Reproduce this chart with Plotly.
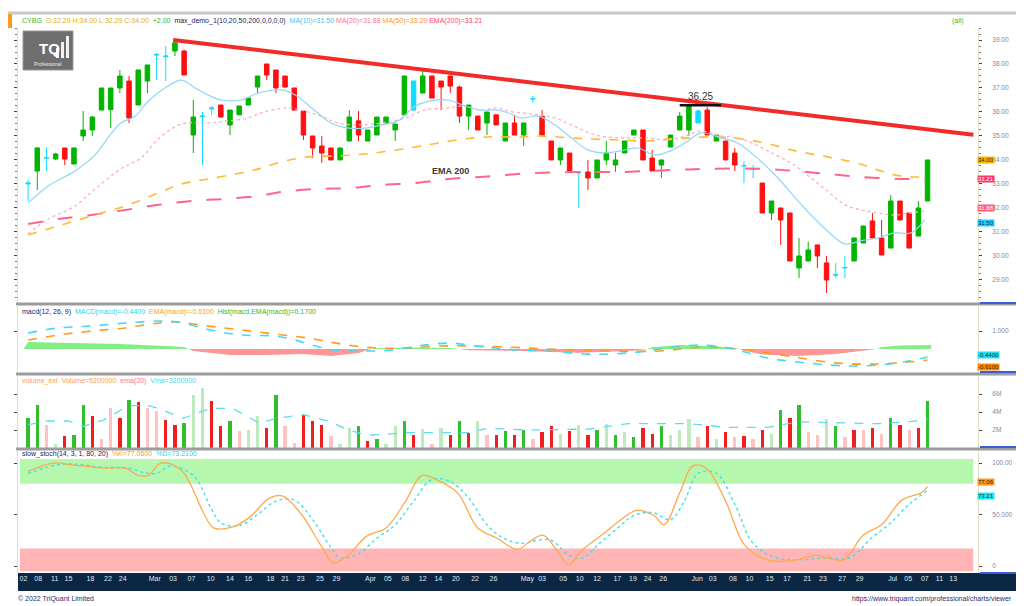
import plotly.graph_objects as go
from plotly.subplots import make_subplots

W, H = 1024, 606

# ---- price candles (index = trading day) ----
cndl_open = [33.00, 33.54, 34.08, 34.04, 34.50, 33.83, 35.00, 35.25, 36.08, 36.10,
             37.00, 37.29, 36.29, 37.29, 38.37, 38.30, 38.54, 38.54, 35.04, 35.80,
             36.13, 36.29, 35.46, 35.88, 36.29, 37.04, 38.00, 37.75, 37.50, 37.00,
             36.04, 35.00, 34.58, 34.50, 34.00, 34.79, 35.63, 34.79, 35.04, 35.54,
             35.25, 35.88, 36.08, 36.79, 37.50, 37.29, 37.50, 37.04, 35.83, 35.83,
             35.54, 35.88, 34.79, 35.54, 35.04, 36.54, 35.83, 34.79, 34.00, 34.29,
             33.46, 33.50, 33.25, 34.00, 33.79, 34.29, 35.04, 35.25, 34.08, 33.79,
             34.54, 35.25, 35.25, 35.54, 36.08, 34.79, 34.79, 34.29, 33.75, 33.60,
             33.04, 31.79, 32.00, 31.79, 29.50, 29.79, 30.46, 29.71, 29.20, 29.50,
             29.79, 30.54, 31.46, 30.75, 30.33, 32.29, 31.79, 30.83, 32.29]
cndl_high = [33.17, 34.54, 34.54, 34.30, 34.50, 34.50, 36.04, 35.83, 37.00, 37.00,
             37.75, 37.50, 37.75, 37.96, 38.46, 38.75, 39.00, 38.60, 36.50, 36.00,
             36.25, 36.30, 36.08, 36.25, 36.60, 37.50, 38.00, 37.75, 37.50, 37.00,
             36.04, 35.00, 35.00, 34.50, 34.50, 36.08, 36.04, 35.25, 35.79, 35.79,
             35.50, 37.50, 37.30, 37.71, 37.50, 37.29, 37.50, 37.10, 36.29, 35.83,
             36.00, 35.90, 35.54, 35.88, 35.54, 36.67, 36.08, 34.79, 34.50, 34.29,
             33.50, 34.00, 34.00, 34.79, 34.30, 34.79, 35.25, 35.25, 34.42, 34.00,
             35.04, 36.00, 36.33, 36.10, 36.20, 35.04, 34.79, 34.50, 33.96, 33.79,
             33.04, 32.29, 32.00, 31.79, 30.75, 30.60, 30.46, 30.00, 29.71, 30.00,
             30.75, 31.25, 31.79, 31.50, 32.54, 32.29, 31.79, 32.29, 34.00]
cndl_low = [32.29, 32.75, 33.54, 34.00, 33.79, 33.83, 34.79, 35.00, 36.08, 35.33,
            36.79, 35.54, 36.29, 36.79, 37.33, 37.29, 38.33, 37.54, 34.29, 33.79,
            35.88, 35.79, 35.04, 35.88, 36.29, 36.79, 37.33, 36.79, 37.00, 36.08,
            34.83, 34.08, 33.88, 34.00, 34.00, 34.79, 34.79, 34.79, 35.04, 35.54,
            34.79, 35.88, 36.08, 36.79, 36.58, 36.08, 36.79, 35.54, 35.25, 35.25,
            35.04, 35.46, 34.79, 35.04, 34.58, 36.38, 35.04, 34.00, 33.79, 33.54,
            32.00, 32.75, 33.25, 33.79, 33.50, 34.29, 35.04, 34.00, 33.54, 33.25,
            34.54, 35.25, 35.00, 35.54, 35.04, 34.79, 34.00, 33.54, 33.04, 33.25,
            31.79, 31.50, 30.46, 29.79, 29.08, 29.79, 29.50, 28.46, 29.08, 29.08,
            29.79, 30.54, 30.75, 30.04, 30.33, 31.50, 30.33, 30.83, 32.29]
cndl_close = [33.04, 34.50, 34.10, 34.25, 34.04, 34.50, 35.25, 35.79, 37.00, 37.00,
              37.50, 35.75, 37.75, 37.96, 38.40, 38.33, 38.88, 37.54, 35.79, 35.83,
              36.17, 35.79, 36.08, 36.25, 36.58, 37.50, 37.54, 37.00, 37.04, 36.08,
              35.04, 34.50, 34.29, 34.00, 34.50, 35.79, 35.04, 35.25, 35.79, 35.79,
              35.50, 37.50, 37.29, 37.50, 36.58, 37.04, 37.08, 35.83, 36.29, 35.25,
              36.00, 35.46, 35.54, 35.04, 35.54, 36.56, 35.04, 34.00, 34.50, 33.54,
              33.48, 33.25, 34.00, 34.29, 34.00, 34.79, 35.25, 34.00, 33.54, 34.00,
              35.04, 35.83, 36.29, 36.04, 35.04, 35.04, 34.00, 33.79, 33.77, 33.62,
              31.79, 32.29, 31.50, 29.79, 30.00, 30.25, 30.00, 29.00, 29.22, 29.52,
              30.75, 31.25, 30.75, 30.04, 32.29, 31.50, 30.33, 32.00, 34.00]
# g = green, r = red, c = cyan (doji / inside)
cndl_kind = list("cgcgrggggg" "grggccgrgc" "crggggrrrr" "rrrrggrggg" "ggcgrrrrgr"
                 "grgrgcrrgr" "crgggggrrg" "gggcrgrrcc" "rgrrggrrcc" "ggrrgrrgg")

# moving averages (sparse readings: index, price)
ma10_idx = [0, 2.2, 5.1, 7.3, 8.7, 10.1, 11.7, 13.1, 14.9, 16.7, 18.2, 19.6, 21, 23.2, 25.1,
            27.6, 29.1, 31.3, 33, 34.9, 36.7, 38.5, 40.3, 42.2, 43.9, 45.8, 47.6, 49.3, 51.2,
            52.3, 53.7, 55.6, 57.4, 59.2, 61, 62.9, 64.6, 66.4, 68.3, 70, 71.9, 73.3, 75.5,
            77.3, 79.8, 81.7, 83.6, 85.3, 87.1, 89, 90.7, 92.6, 94.4, 96.2, 97.7]
ma10_val = [32.21, 32.92, 33.54, 34.21, 34.92, 35.54, 35.83, 36.46, 37.0, 37.33, 37.0, 36.71,
            36.5, 36.5, 36.79, 36.92, 36.71, 36.04, 35.54, 35.33, 35.33, 35.46, 35.63, 36.25,
            36.46, 36.5, 36.25, 36.08, 36.08, 35.96, 35.75, 35.83, 35.46, 34.92, 34.42, 34.29,
            34.38, 34.5, 34.21, 34.38, 34.79, 35.13, 34.92, 34.71, 33.96, 33.25, 32.42, 31.71,
            31.04, 30.5, 30.63, 30.75, 30.96, 30.96, 31.5]
ma20_idx = [0, 2.2, 5.1, 7.3, 10.1, 12.3, 14.2, 16.7, 19.6, 21.8, 24, 25.1, 26.1, 28.3, 29.7,
            31.9, 33.8, 36, 38.5, 41.1, 43.2, 45.8, 47.6, 49.3, 51.2, 52.3, 55.6, 57.4, 59.2,
            61.8, 64.6, 67.5, 69.7, 71.9, 73.3, 75.5, 77.3, 78.4, 80.6, 83.6, 85.3, 87.1, 89,
            90.7, 92.6, 94.4, 96.2, 97.8]
ma20_val = [30.92, 31.54, 32.08, 32.79, 33.63, 34.08, 34.88, 35.5, 35.54, 35.63, 35.75, 35.92,
            36.04, 36.17, 36.08, 35.83, 35.54, 35.46, 35.54, 35.75, 36.08, 36.17, 36.25, 36.08,
            36.17, 36.04, 35.88, 35.75, 35.46, 35.04, 34.92, 34.92, 34.83, 35.04, 35.21, 35.0,
            34.92, 34.79, 34.38, 33.75, 33.25, 32.71, 32.13, 31.92, 31.79, 31.71, 31.79, 31.88]
ma50_idx = [0, 3.3, 6.9, 10.6, 14.2, 16.7, 19.6, 23.2, 25.1, 27.6, 30.5, 33.8, 36.7, 39.5,
            42.2, 44.7, 47.6, 50.1, 53.7, 55.6, 59.2, 61, 64.6, 67.5, 70, 71.9, 75.5, 79.8,
            83.6, 87.1, 90.7, 92.6, 95.1, 97.8]
ma50_val = [30.88, 31.25, 31.67, 32.08, 32.63, 33.0, 33.21, 33.46, 33.63, 33.92, 34.13, 34.17,
            34.25, 34.38, 34.54, 34.71, 34.88, 34.96, 34.96, 35.0, 34.92, 34.88, 34.83, 34.79,
            34.88, 34.92, 34.96, 34.75, 34.38, 34.13, 33.83, 33.58, 33.33, 33.29]
ema200_idx = [0, 3.3, 6.9, 10.6, 14.2, 17.8, 21.5, 25.1, 27.6, 31.3, 34.9, 38.5, 42.2, 45.8,
              49.3, 55.2, 61, 64.6, 70, 74.1, 79.8, 83.6, 87.1, 90.7, 95.1, 97.8]
ema200_val = [31.33, 31.54, 31.71, 31.92, 32.13, 32.29, 32.38, 32.5, 32.67, 32.79, 32.83, 32.96,
              33.04, 33.21, 33.29, 33.46, 33.5, 33.5, 33.58, 33.63, 33.63, 33.54, 33.42, 33.29,
              33.21, 33.21]

trend_idx = [15.8, 103.0]
trend_px = [39.0, 35.05]
peak_idx = [71.0, 75.5]
peak_px = [36.28, 36.28]
peak_label = "36.25"
ema_label_idx, ema_label_px = 46.0, 33.55

# ---- MACD ----
macd_idx = [0, 3.3, 6.9, 10.6, 14.2, 16.3, 18.2, 20.4, 23.2, 26.9, 29.1, 31.3, 33.4, 35.9,
            39.5, 43.2, 46.1, 48.7, 50.9, 53.4, 56.6, 61, 65.4, 69.7, 73, 76.3, 80.6, 85,
            89.3, 92.6, 95.9, 98]
macd_val = [0.89, 1.17, 1.28, 1.44, 1.56, 1.5, 1.28, 1.0, 0.78, 0.72, 0.5, 0.17, -0.06, -0.11,
            -0.06, 0.22, 0.33, 0.17, 0.06, -0.06, -0.11, -0.28, -0.22, 0.06, 0.22, 0.06, -0.5,
            -0.78, -0.94, -0.89, -0.67, -0.44]
sig_idx = [0, 3.3, 6.9, 10.6, 13.4, 16, 19.6, 23.2, 26.9, 30.5, 34.1, 37.8, 41.4, 45, 48.7,
           52.3, 56.6, 63.2, 68.6, 74.1, 78.4, 82.8, 88.2, 92.6, 95.9, 98]
sig_val = [0.5, 0.78, 1.0, 1.17, 1.39, 1.5, 1.28, 1.06, 0.83, 0.61, 0.28, 0.06, 0.06, 0.17, 0.17,
           0.11, 0.0, -0.11, -0.11, 0.11, -0.06, -0.39, -0.78, -0.83, -0.72, -0.61]
hist_up_idx = [-0.5, 0, 5, 10, 15, 17, 17.5, None, 37.5, 38, 42, 46, 47, None,
               67.5, 68, 71, 75, 77, 77.5, None, 92.5, 93, 95, 98, 98.4]
hist_up_val = [0, 0.39, 0.33, 0.28, 0.17, 0.11, 0, None, 0, 0.05, 0.08, 0.06, 0, None,
               0, 0.1, 0.22, 0.15, 0.05, 0, None, 0, 0.12, 0.2, 0.22, 0.22]
hist_dn_idx = [17.5, 18, 20, 22, 26, 30, 33, 36, 37, 37.5, None, 47, 48, 54, 60, 66, 67.5, None,
               77.5, 78, 80, 84, 88, 91, 92.5]
hist_dn_val = [0, -0.11, -0.22, -0.33, -0.33, -0.28, -0.39, -0.22, -0.05, 0, None, 0, -0.06,
               -0.11, -0.2, -0.1, 0, None, 0, -0.1, -0.3, -0.39, -0.28, -0.1, 0]

# ---- volume (millions) ----
vol_val = [3.3, 4.8, 2.6, 0.5, 1.3, 1.4, 4.8, 3.6, 1.0, 4.4,
           3.3, 5.3, 5.1, 4.4, 4.1, 3.1, 2.6, 2.8, 5.9, 6.7,
           5.2, 2.4, 3.0, 1.9, 2.0, 3.6, 2.2, 5.9, 2.4, 0.6,
           3.7, 3.0, 2.6, 1.3, 0.5, 2.2, 2.4, 0.8, 1.0, 0.5,
           2.4, 3.0, 1.4, 2.1, 0.5, 2.2, 1.4, 3.0, 1.7, 3.0,
           1.4, 1.4, 1.9, 1.4, 2.0, 1.0, 1.8, 2.4, 1.6, 1.9,
           2.6, 1.5, 2.0, 2.7, 1.5, 1.8, 1.2, 2.2, 1.6, 2.5,
           1.4, 2.0, 3.2, 1.2, 2.4, 1.0, 1.8, 1.2, 1.3, 1.0,
           2.0, 1.6, 4.2, 3.3, 4.8, 1.8, 1.4, 3.2, 2.4, 1.2,
           2.0, 2.0, 2.2, 1.6, 3.3, 2.6, 2.0, 2.2, 5.2]
vol_kind = ["g", "g", "lp", "lg", "r", "g", "g", "r", "lp", "lp",
            "r", "g", "r", "lp", "lp", "r", "r", "g", "lg", "lg",
            "r", "r", "g", "lp", "lg", "lg", "r", "g", "lp", "lp",
            "r", "r", "r", "lp", "lg", "lg", "g", "r", "g", "lg",
            "lg", "g", "r", "lg", "lp", "lg", "r", "g", "r", "lg",
            "lp", "r", "g", "r", "g", "lp", "r", "r", "lg", "r",
            "lg", "r", "g", "lg", "g", "lg", "g", "r", "r", "g",
            "lg", "lg", "lg", "lp", "r", "lg", "r", "lp", "r", "lp",
            "r", "lg", "g", "r", "g", "lp", "lp", "lg", "g", "lp",
            "r", "lp", "r", "lp", "g", "r", "lp", "r", "g"]
vma_idx = [0, 2.2, 4.4, 6, 8.2, 10.9, 13.1, 14.2, 16.9, 19.9, 22.3, 25.1, 27.2, 30, 32.7,
           34.9, 37, 41.4, 47.9, 50.1, 54.5, 61, 65.4, 71.9, 76.3, 80.6, 83.9, 88.2, 92.6,
           95.9, 98]
vma_val = [2.6, 3.0, 3.0, 2.4, 3.1, 4.7, 4.7, 4.4, 3.3, 4.4, 4.4, 2.8, 3.3, 3.7, 3.0, 2.0, 1.4,
           1.7, 1.7, 2.2, 2.0, 2.1, 2.7, 2.7, 2.3, 2.3, 2.9, 2.8, 2.7, 2.9, 3.2]

# ---- slow stochastic ----
stk_idx = [0, 2.8, 4.9, 8.5, 10.6, 12, 13.1, 14.5, 16.7, 19.2, 20.2, 22.3, 24.1, 26.3, 27.7,
           29.8, 31.9, 33.3, 34.8, 36.9, 39, 41.2, 42.9, 44.7, 46.8, 49, 51.1, 53.3, 54.7,
           56.1, 57.8, 58.9, 60.3, 62.5, 64.6, 66.3, 68.2, 69.3, 71, 72.4, 73.9, 76, 78.1,
           80.6, 83.1, 85.9, 88.8, 91, 93, 95.2, 97.3, 98]
stk_val = [92, 100, 98, 95, 95, 88, 88, 100, 93, 50, 37, 38, 47, 66, 68, 50, 20, 3, 10, 29,
           37, 64, 88, 83, 71, 37, 27, 16, 24, 30, 13, 1, 15, 30, 45, 54, 49, 40, 71, 97, 95,
           63, 20, 6, 5, 10, 6, 30, 40, 64, 71, 77.06]
std_idx = [0, 3, 5, 8, 11, 12.5, 14, 15.5, 18, 20, 21, 23, 25, 27, 29, 31, 33, 34, 36, 38,
           40, 42, 44, 46, 48, 50, 52, 54, 55.5, 57, 59, 60.5, 62, 64, 66, 68, 70, 71.5, 73,
           75, 77, 79, 81.5, 84, 87, 89.5, 92, 94, 96, 98]
std_val = [90, 98, 99, 96, 95, 91, 90, 97, 88, 55, 42, 39, 50, 63, 64, 45, 18, 8, 12, 27, 40,
           63, 84, 82, 66, 40, 26, 22, 25, 25, 10, 8, 20, 35, 49, 52, 45, 63, 90, 90, 60, 22,
           8, 6, 8, 8, 28, 42, 60, 73.21]

tick_idx = [-0.5, 1.1, 2.9, 4.4, 6.8, 8.7, 10.3, 13.8, 15.8, 17.8, 19.9, 22.0, 24.0, 26.4,
            28.0, 29.7, 31.8, 33.6, 37.3, 39.2, 41.1, 43.0, 44.7, 46.6, 48.7, 50.7, 54.4,
            56.0, 58.3, 60.1, 62.0, 64.2, 65.9, 67.5, 69.2, 72.9, 74.6, 76.8, 78.6, 80.8,
            82.7, 84.9, 86.6, 88.7, 90.6, 94.2, 95.9, 97.7, 99.3, 100.8]
tick_txt = ["02", "08", "11", "15", "18", "22", "24", "Mar", "03", "07", "10", "14", "16",
            "18", "21", "23", "25", "29", "Apr", "05", "08", "12", "14", "20", "22", "26",
            "May", "03", "05", "10", "12", "17", "19", "24", "26", "Jun", "03", "08", "10",
            "15", "17", "21", "23", "27", "29", "Jul", "05", "07", "11", "13"]

GREEN, RED, CYAN = "#00b400", "#ff1010", "#10dcff"
VOLCOL = {"g": "#2fbf2f", "r": "#f01e1e", "lp": "#ffc2c2", "lg": "#bfeabf"}
FONT = "Liberation Sans"


def px(x):
    return x / W


def py(y):
    return 1 - y / H


fig = make_subplots(rows=4, cols=1, shared_xaxes=True, vertical_spacing=0.0)

# moving averages
fig.add_trace(go.Scatter(x=ema200_idx, y=ema200_val, mode="lines",
                         line=dict(color="#ff6488", width=2, dash="longdash", shape="spline")),
              row=1, col=1)
fig.add_trace(go.Scatter(x=ma50_idx, y=ma50_val, mode="lines",
                         line=dict(color="#ffbb33", width=1.6, dash="dash", shape="spline")),
              row=1, col=1)
fig.add_trace(go.Scatter(x=ma20_idx, y=ma20_val, mode="lines",
                         line=dict(color="#ffadc0", width=1.3, dash="dot", shape="spline")),
              row=1, col=1)
fig.add_trace(go.Scatter(x=ma10_idx, y=ma10_val, mode="lines",
                         line=dict(color="#8fd6f7", width=1.2, shape="spline")),
              row=1, col=1)
fig.add_trace(go.Scatter(x=trend_idx, y=trend_px, mode="lines",
                         line=dict(color="#f22a2a", width=4)), row=1, col=1)

# candles split by colour kind
for kind, col in (("g", GREEN), ("r", RED), ("c", CYAN)):
    sel = [i for i, k in enumerate(cndl_kind) if k == kind]
    fig.add_trace(go.Candlestick(
        x=sel,
        open=[cndl_open[i] for i in sel], high=[cndl_high[i] for i in sel],
        low=[cndl_low[i] for i in sel], close=[cndl_close[i] for i in sel],
        increasing=dict(line=dict(color=col, width=1), fillcolor=col),
        decreasing=dict(line=dict(color=col, width=1), fillcolor=col),
        hoverinfo="skip"), row=1, col=1)

fig.add_trace(go.Scatter(x=peak_idx, y=peak_px, mode="lines",
                         line=dict(color="#111111", width=2.5)), row=1, col=1)

# MACD
fig.add_trace(go.Scatter(x=hist_up_idx, y=hist_up_val, mode="lines", fill="tozeroy",
                         line=dict(width=0), fillcolor="rgba(110,235,110,0.85)"), row=2, col=1)
fig.add_trace(go.Scatter(x=hist_dn_idx, y=hist_dn_val, mode="lines", fill="tozeroy",
                         line=dict(width=0), fillcolor="rgba(255,130,130,0.85)"), row=2, col=1)
fig.add_trace(go.Scatter(x=sig_idx, y=sig_val, mode="lines",
                         line=dict(color="#ff9a1a", width=1.6, dash="dash", shape="spline")),
              row=2, col=1)
fig.add_trace(go.Scatter(x=macd_idx, y=macd_val, mode="lines",
                         line=dict(color="#3fdcf2", width=1.6, dash="dash", shape="spline")),
              row=2, col=1)

# volume
fig.add_trace(go.Bar(x=list(range(len(vol_val))), y=vol_val, width=0.36,
                     marker=dict(color=[VOLCOL[k] for k in vol_kind], line=dict(width=0))),
              row=3, col=1)
fig.add_trace(go.Scatter(x=vma_idx, y=vma_val, mode="lines",
                         line=dict(color="#5fdcec", width=1.3, dash="dash")), row=3, col=1)

# stochastic
fig.add_trace(go.Scatter(x=std_idx, y=std_val, mode="lines",
                         line=dict(color="#3fe0ee", width=1.4, dash="dot", shape="spline")),
              row=4, col=1)
fig.add_trace(go.Scatter(x=stk_idx, y=stk_val, mode="lines",
                         line=dict(color="#ffa94d", width=1.3, shape="spline")), row=4, col=1)

xdom = [px(10), px(970)]
fig.update_xaxes(domain=xdom, range=[-1.1, 103.5], showgrid=False, zeroline=False,
                 showline=False, rangeslider_visible=False, showticklabels=False, ticks="")
fig.update_xaxes(row=4, col=1, showticklabels=True, tickmode="array", tickvals=tick_idx,
                 ticktext=tick_txt, tickfont=dict(family=FONT, size=7, color="#dfe8f3"))

yax_common = dict(side="right", showgrid=False, zeroline=False, showline=True,
                  linecolor="#e6dcc0", linewidth=1, mirror="ticks", ticks="outside",
                  ticklen=3, tickcolor="#444444", automargin=False, ticklabelstandoff=9,
                  tickfont=dict(family=FONT, size=6.5, color="#7d8aa6"))
fig.update_layout(
    yaxis=dict(domain=[py(295), py(20)], range=[28.04, 39.5], tickmode="linear", tick0=29,
               dtick=1, tickformat=".2f",
               minor=dict(ticks="outside", ticklen=2, dtick=0.25, tickcolor="#777777"),
               **yax_common),
    yaxis2=dict(domain=[py(365), py(298)], range=[-1.33, 2.39], tickvals=[1.0],
                ticktext=["1.000"], **yax_common),
    yaxis3=dict(domain=[py(440), py(368)], range=[0, 8.0], tickvals=[2, 4, 6],
                ticktext=["2M", "4M", "6M"], **yax_common),
    yaxis4=dict(domain=[py(565), py(443)], range=[-6.8, 111.7], tickvals=[0, 50, 100],
                ticktext=["0", "50.000", "100.00"], **yax_common),
)

shapes = []
# stochastic bands
shapes.append(dict(type="rect", xref="x4 domain", yref="y4", x0=0.002, x1=0.995, y0=80, y1=104,
                   fillcolor="#b5f7ad", line=dict(width=0), layer="below"))
shapes.append(dict(type="rect", xref="x4 domain", yref="y4", x0=0.002, x1=0.995, y0=-5, y1=17,
                   fillcolor="#ffb5b5", line=dict(width=0), layer="below"))
# frame lines
shapes.append(dict(type="line", xref="paper", yref="paper", x0=0, x1=px(1010),
                   y0=py(5), y1=py(5), line=dict(color="#c8c8c8", width=3)))
shapes.append(dict(type="rect", xref="paper", yref="paper", x0=0, x1=px(4),
                   y0=py(20), y1=py(6), fillcolor="#ff9a1a", line=dict(width=0)))
for ysep in (296, 366, 441):
    shapes.append(dict(type="line", xref="paper", yref="paper", x0=px(8), x1=px(1010),
                       y0=py(ysep), y1=py(ysep), line=dict(color="#9c9c9c", width=3)))
for top, bot in ((20, 295), (299, 364), (369, 439), (444, 565)):
    shapes.append(dict(type="line", xref="paper", yref="paper", x0=px(1010), x1=px(1010),
                       y0=py(bot), y1=py(top), line=dict(color="#3b5bdb", width=2)))
    shapes.append(dict(type="line", xref="paper", yref="paper", x0=px(972), x1=px(1010),
                       y0=py(bot), y1=py(bot), line=dict(color="#3b5bdb", width=2)))
# date strip
shapes.append(dict(type="rect", xref="paper", yref="paper", x0=px(10), x1=px(1010),
                   y0=py(583), y1=py(565), fillcolor="#0b2744", line=dict(width=0),
                   layer="below"))
# logo
shapes.append(dict(type="rect", xref="paper", yref="paper", x0=px(15), x1=px(65),
                   y0=py(62), y1=py(23), fillcolor="#6e6e6e", line=dict(color="#9a9a9a", width=1)))
for bx, bt in ((48, 40), (53, 34), (58, 28)):
    shapes.append(dict(type="rect", xref="paper", yref="paper", x0=px(bx), x1=px(bx + 3),
                       y0=py(50), y1=py(bt), fillcolor="#f2f2f2", line=dict(width=0)))
fig.update_layout(shapes=shapes)

ann = []


def note(x, y, text, size=7, color="#222", xanchor="left", **kw):
    ann.append(dict(xref="paper", yref="paper", x=px(x), y=py(y), text=text, showarrow=False,
                    xanchor=xanchor, yanchor="middle",
                    font=dict(family=FONT, size=size, color=color), **kw))


o, hi, lo, c = cndl_open[-1], cndl_high[-1], cndl_low[-1], cndl_close[-1]
chg = c - cndl_close[-2]
hdr = (f"<span style='color:#2db82d'>CYBG</span>  "
       f"<span style='color:#e2b400'>O:{o:.2f} H:{hi:.2f} L:{lo:.2f} C:{c:.2f}</span>  "
       f"<span style='color:#2db82d'>{chg:+.2f}</span>  "
       f"<span style='color:#23235e'>max_demo_1(10,20,50,200,0,0,0,0)</span>  "
       f"<span style='color:#3cc4f0'>MA(10)={ma10_val[-1]:.2f}</span> "
       f"<span style='color:#ff6f9a'>MA(20)={ma20_val[-1]:.2f}</span> "
       f"<span style='color:#ff9a1a'>MA(50)={ma50_val[-1]:.2f}</span> "
       f"<span style='color:#ff3d6e'>EMA(200)={ema200_val[-1]:.2f}</span>")
note(12, 13, hdr)
note(958, 13, "(all)", color="#3cb83c", xanchor="right")

note(12, 304,
     f"<span style='color:#23235e'>macd(12, 26, 9)</span>  "
     f"<span style='color:#2fd0ea'>MACD(macd)={macd_val[-1]:.4f}</span>  "
     f"<span style='color:#ff9a1a'>EMA(macd)={sig_val[-1]:.4f}</span>  "
     f"<span style='color:#2db82d'>Hist(macd,EMA(macd))={macd_val[-1] - sig_val[-1]:.4f}</span>")
note(12, 373,
     f"<span style='color:#ffa040'>volume_ext  Volume={vol_val[-1] * 1e6:.0f}</span>  "
     f"<span style='color:#ff6f9a'>ema(20)</span>  "
     f"<span style='color:#3fd8ec'>Vma={vma_val[-1] * 1e6:.0f}</span>")
note(12, 446,
     f"<span style='color:#23235e'>slow_stoch(14, 3, 1, 80, 20)</span>  "
     f"<span style='color:#ff9a1a'>%K={stk_val[-1]:.4f}</span>  "
     f"<span style='color:#2fd0ea'>%D={std_val[-1]:.4f}</span>")

note(29, 40, "<b>TQ</b>", size=15, color="#ffffff")
note(40, 56, "Professional", size=5, color="#eeeeee", xanchor="center")
note(8, 591, "© 2022 TriQuant Limited", color="#2b2b6b")
note(1006, 591, "https://www.triquant.com/professional/charts/viewer", color="#2b2b6b",
     xanchor="right")

# data-referenced labels
ann.append(dict(x=sum(peak_idx) / 2, y=peak_px[0], xref="x", yref="y", text=peak_label,
                showarrow=False, yanchor="bottom", yshift=1,
                font=dict(family=FONT, size=10, color="#333333")))
ann.append(dict(x=ema_label_idx, y=ema_label_px, xref="x", yref="y", text="<b>EMA 200</b>",
                showarrow=False, font=dict(family=FONT, size=9, color="#3a3a3a")))


def box(yref, val, text, bg, fg, shift=0):
    ann.append(dict(xref="paper", yref=yref, x=px(969), y=val, text=text, showarrow=False,
                    xanchor="left", yanchor="middle", bgcolor=bg, borderpad=0, yshift=shift,
                    font=dict(family=FONT, size=6, color=fg)))


box("y", c, f"{c:.2f}", "#f7b500", "#3a2a00")
box("y", ema200_val[-1], f"{ema200_val[-1]:.2f}", "#ff3366", "#ffffff")
box("y", ma20_val[-1], f"{ma20_val[-1]:.2f}", "#ff5c7c", "#ffffff", shift=3)
box("y", ma10_val[-1], f"{ma10_val[-1]:.2f}", "#22ccff", "#003344", shift=-3)
box("y2", macd_val[-1], f"{macd_val[-1]:.4f}", "#22e0f0", "#003344", shift=2)
box("y2", sig_val[-1], f"{sig_val[-1]:.4f}", "#ff8c00", "#3a1a00", shift=-7)
box("y4", stk_val[-1], f"{stk_val[-1]:.2f}", "#ff9a1a", "#3a1a00", shift=5)
box("y4", std_val[-1], f"{std_val[-1]:.2f}", "#22e8f0", "#003344", shift=-5)

fig.update_layout(
    annotations=ann,
    width=W, height=H,
    margin=dict(l=0, r=0, t=0, b=0),
    paper_bgcolor="white", plot_bgcolor="rgba(0,0,0,0)",
    showlegend=False, bargap=0,
    font=dict(family=FONT),
)

fig.write_html("out.html")
